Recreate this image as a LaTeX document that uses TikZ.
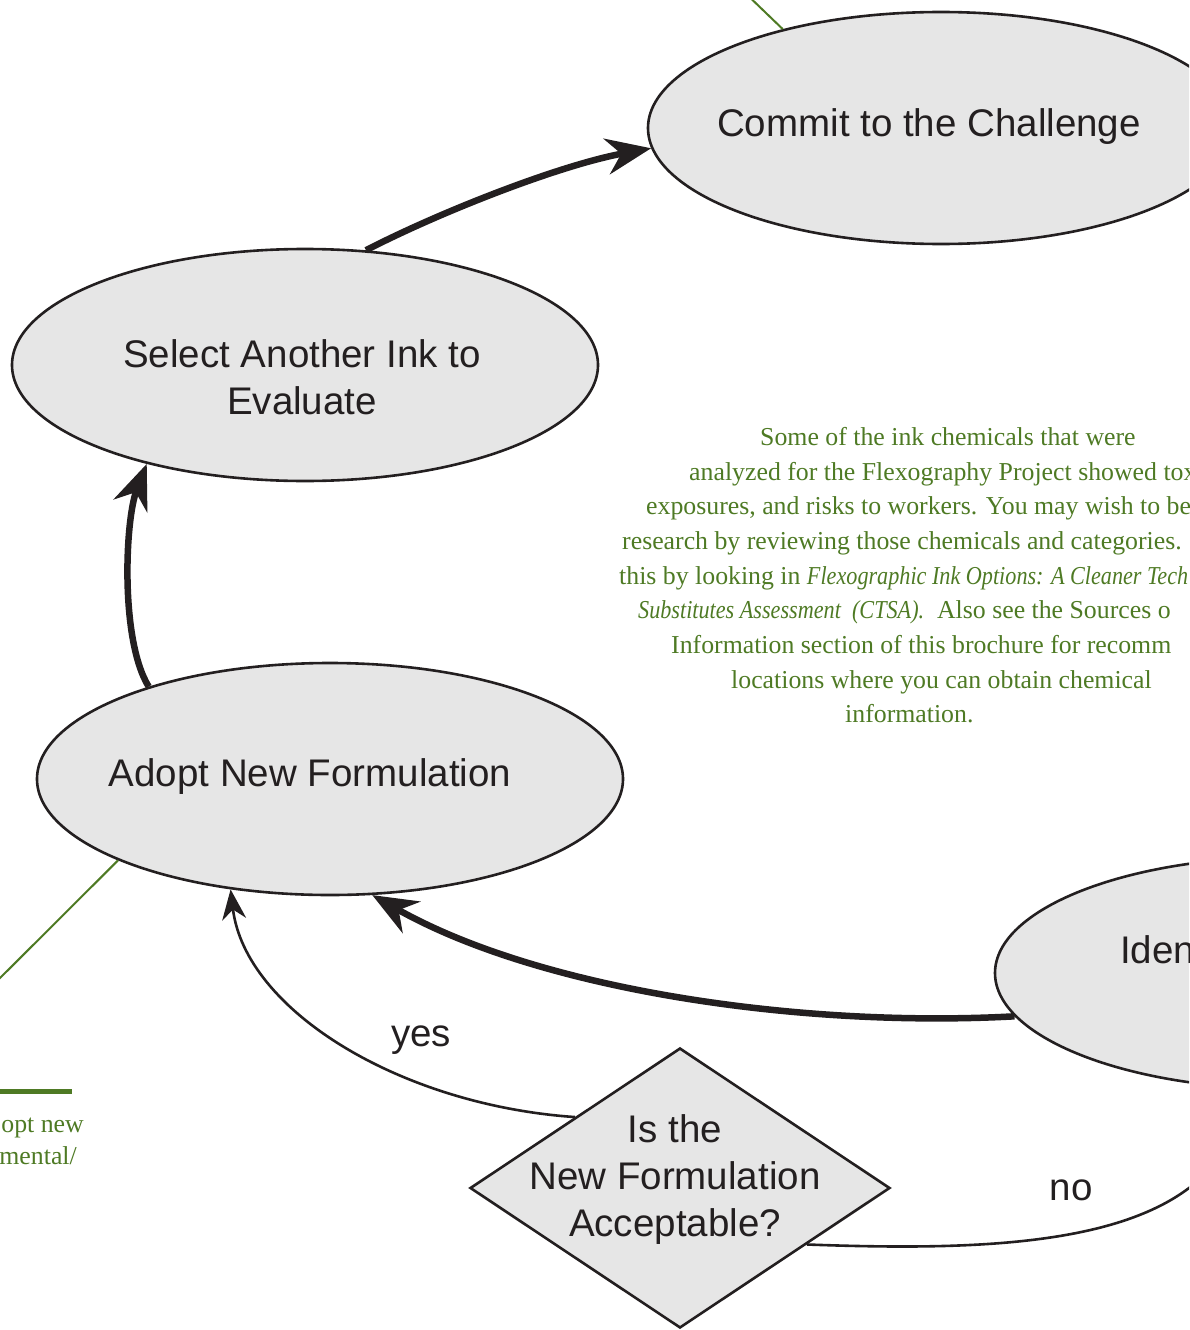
\documentclass[tikz,border=0pt]{standalone}
\usepackage{fontspec}
\setmainfont{Liberation Serif}
\setsansfont{Liberation Sans}
\newfontface\noteitalic[FakeStretch=0.86]{Liberation Serif Italic}
\usetikzlibrary{shapes.geometric,arrows.meta}

\definecolor{inkblack}{RGB}{35,31,32}
\definecolor{stagegray}{RGB}{230,230,230}
\definecolor{notegreen}{RGB}{78,122,36}

\begin{document}
\begin{tikzpicture}[x=1pt,y=-1pt,
    stage node/.style={ellipse,draw=inkblack,fill=stagegray,line width=2.6pt,
                       minimum width=586pt,minimum height=232pt,inner sep=0pt},
    decision node/.style={diamond,draw=inkblack,fill=stagegray,line width=2.6pt,
                          minimum width=420pt,minimum height=280pt,inner sep=0pt},
    stage text/.style={text=inkblack,align=center,inner sep=0pt,
                       font=\sffamily\fontsize{38.5}{47}\selectfont},
    cycle arrow/.style={draw=inkblack,line width=6.5pt,-{Stealth[length=45pt,width=36pt]}},
    answer arrow/.style={draw=inkblack,line width=2.6pt,-{Stealth[length=30pt,width=24pt]}},
    callout/.style={draw=notegreen,line width=2pt},
    note line/.style={anchor=base west,text=notegreen,inner sep=0pt,
                      font=\fontsize{25.8}{30}\selectfont}]

  \useasboundingbox (0,0) rectangle (1189,1330);
  \clip (0,0) rectangle (1189,1330);

  % stages of the cycle
  \node[stage node] (commit) at (941,128) {};
  \node[stage node] (select) at (305,365) {};
  \node[stage node] (adopt)  at (330,779) {};
  \node[stage node] (iden)   at (1288,973) {};
  \node[decision node] (accept) at (680,1188) {};

  \node[stage text,anchor=base] (committext) at (929,136) {Commit to the Challenge};
  \node[stage text] (selecttext) at (302,377) {Select Another Ink to\\Evaluate};
  \node[stage text,anchor=base] (adopttext) at (310,786) {Adopt New Formulation};
  \node[stage text,anchor=base west] (identext) at (1120,963) {Iden};
  \node[stage text] (accepttext) at (675,1180) {Is the\\New Formulation\\Acceptable?};

  % main cycle
  \draw[cycle arrow] (select.62) .. controls (440,212) and (560,165) .. (commit.184);
  \draw[cycle arrow] (adopt.153) .. controls (120,640) and (125,520) .. (select.212);
  \draw[cycle arrow] (iden.189) .. controls (800,1028) and (540,990) .. (adopt.290);

  % decision answers
  \draw[answer arrow] (accept.146) .. controls (400,1105) and (245,1010) .. (adopt.228);
  \draw[answer arrow] (accept.336) .. controls (1010,1252) and (1210,1245) .. (iden.250);
  \node[stage text,anchor=base] (yes) at (421,1046) {yes};
  \node[stage text,anchor=base] (no) at (1071,1200) {no};

  % green callouts
  \coordinate (topnote) at (739,-13);
  \coordinate (leftnote) at (-18,996);
  \draw[callout] (commit.148) -- (topnote);
  \draw[callout] (adopt.201) -- (leftnote);
  \draw[notegreen,line width=5pt] (0,1091) -- (72,1091);

  \node[note line] (n1) at (760,445) {Some of the ink chemicals that were};
  \node[note line] (n2) at (689,480) {analyzed for the Flexography Project showed tox};
  \node[note line] (n3) at (646,514) {exposures, and risks to workers. You may wish to beg};
  \node[note line] (n4) at (622,549) {research by reviewing those chemicals and categories. Y};
  \node[note line] (n5) at (619,584) {this by looking in {\noteitalic Flexographic Ink Options: A Cleaner Tech}};
  \node[note line] (n6) at (638,618) {{\noteitalic Substitutes Assessment\ \ (CTSA).}\ \ Also see the Sources o};
  \node[note line] (n7) at (671,653) {Information section of this brochure for recomm};
  \node[note line] (n8) at (731,688) {locations where you can obtain chemical};
  \node[note line] (n9) at (845,722) {information.};

  \node[note line,anchor=base east] (m1) at (84,1132) {opt new};
  \node[note line,anchor=base east] (m2) at (77,1164) {mental/};

\end{tikzpicture}
\end{document}
